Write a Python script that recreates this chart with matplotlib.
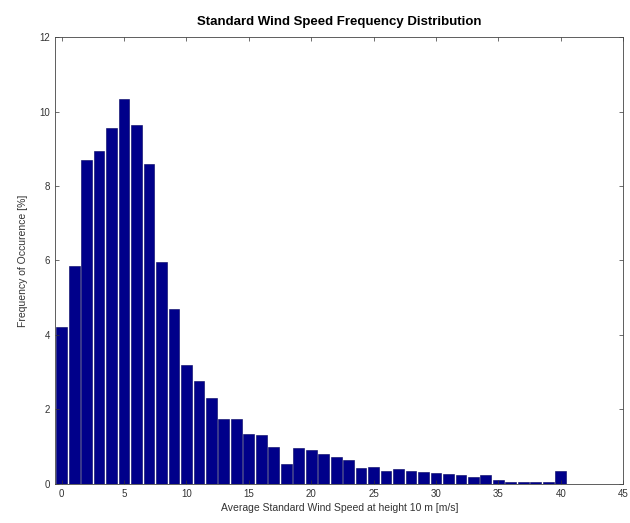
import matplotlib
matplotlib.use("Agg")
import matplotlib.pyplot as plt

# wind speed bins [m/s] and frequency of occurrence [%]
speeds = list(range(0, 41))
freq = [4.2, 5.85, 8.7, 8.95, 9.55, 10.35, 9.65, 8.6, 5.95, 4.7,
        3.2, 2.75, 2.3, 1.75, 1.73, 1.34, 1.3, 0.98, 0.53, 0.97,
        0.9, 0.8, 0.73, 0.64, 0.42, 0.45, 0.33, 0.41, 0.33, 0.31,
        0.3, 0.26, 0.23, 0.17, 0.23, 0.1, 0.04, 0.06, 0.06, 0.05,
        0.33]

xticks = list(range(0, 46, 5))
yticks = list(range(0, 13, 2))

plt.rcParams['font.family'] = ['Liberation Sans', 'DejaVu Sans']

fig = plt.figure(figsize=(6.3, 5.23), dpi=100)
ax = fig.add_axes([0.088, 0.075, 0.901, 0.854])

ax.bar(speeds, freq, width=0.86, color="#00008a", edgecolor="#000060", linewidth=0.4)

ax.set_xlim(-0.5, 45)
ax.set_ylim(0, 12)
ax.set_xticks(xticks)
ax.set_yticks(yticks)
ax.tick_params(direction="in", top=True, right=True, labelsize=7,
               length=3, width=0.5, colors="#333333", pad=4)
for side in ax.spines.values():
    side.set_linewidth(0.6)
    side.set_color("#444444")

ax.set_title("Standard Wind Speed Frequency Distribution", fontsize=9.5,
             fontweight="bold", pad=9)
ax.set_xlabel("Average Standard Wind Speed at height 10 m [m/s]", fontsize=7.5,
              color="#333333", labelpad=3)
ax.set_ylabel("Frequency of Occurence [%]", fontsize=7.5, color="#333333",
              labelpad=8)

plt.savefig("out.png", dpi=100)
